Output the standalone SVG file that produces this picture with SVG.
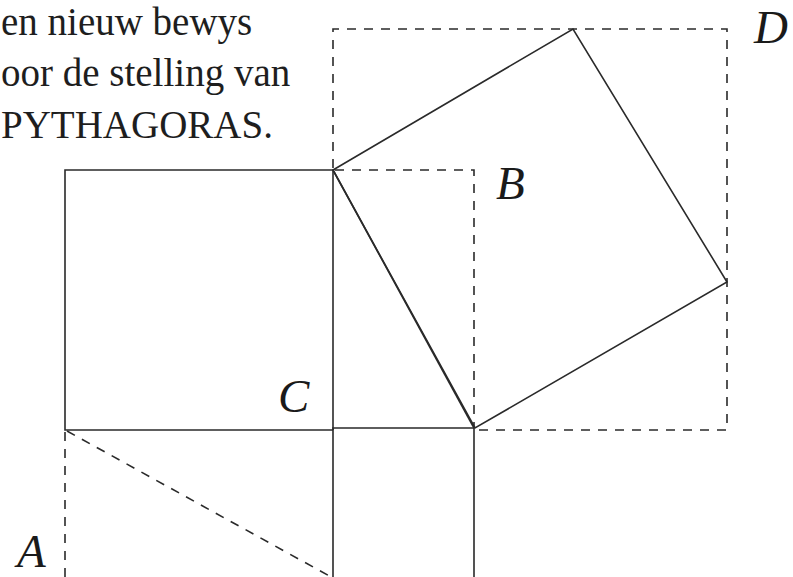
<svg xmlns="http://www.w3.org/2000/svg" width="793" height="577" viewBox="0 0 793 577">
  <style>
    .solid { fill: none; stroke: #2a2a2a; stroke-width: 1.6; stroke-linejoin: miter; }
    .dash { fill: none; stroke: #2a2a2a; stroke-width: 1.6; stroke-dasharray: 9 8; }
    .title { font-family: "Liberation Serif", "DejaVu Serif", serif; font-size: 39px; fill: #1e1e1e; }
    .lbl { font-family: "Liberation Serif", "DejaVu Serif", serif; font-style: italic; font-size: 47px; fill: #1a1a1a; }
  </style>
  <rect x="0" y="0" width="793" height="577" fill="#ffffff"/>

  <g id="title">
    <text class="title" x="1" y="35">en nieuw bewys</text>
    <text class="title" x="1" y="86">oor de stelling van</text>
    <text class="title" x="1" y="138">PYTHAGORAS.</text>
  </g>

  <g id="square-left">
    <polyline class="solid" points="333,170 65,170 65,430 333,430"/>
  </g>
  <g id="square-small">
    <polyline class="solid" points="333,578 333,428 474,428 474,578"/>
  </g>
  <g id="triangle">
    <polyline class="solid" points="333,170 333,430"/>
    <line class="solid" x1="333" y1="170" x2="474" y2="428"/>
  </g>
  <g id="square-tilted">
    <polygon class="solid" points="333,170 573,29 727,282 475,428"/>
  </g>

  <g id="connectors">
    <polyline class="dash" points="65,432 65,577"/>
    <line class="dash" x1="67" y1="431" x2="333" y2="578"/>
    <polyline class="dash" points="335,170 474,170 474,426"/>
    <polyline class="dash" points="333,168 333,29 727,29 727,430 478,430"/>
  </g>

  <g id="labels">
    <text class="lbl" x="754" y="43">D</text>
    <text class="lbl" x="496" y="199">B</text>
    <text class="lbl" x="278" y="412">C</text>
    <text class="lbl" x="17" y="567">A</text>
  </g>
</svg>
